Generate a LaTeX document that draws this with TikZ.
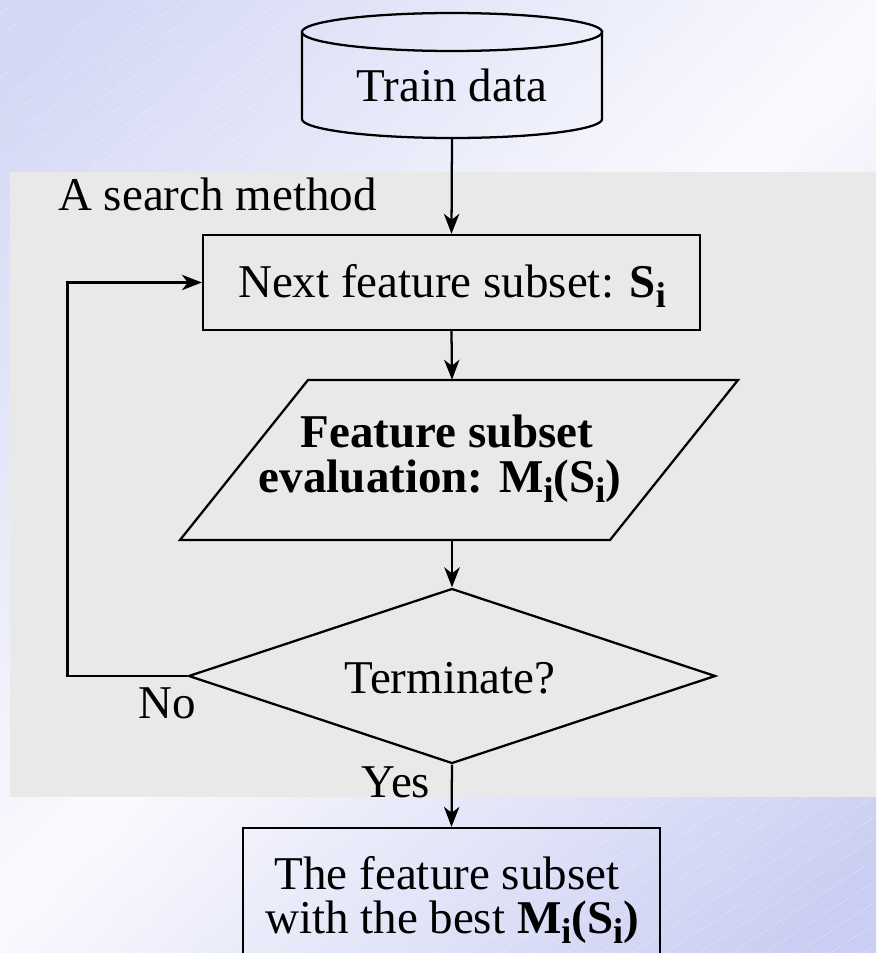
\documentclass[tikz,border=0pt]{standalone}
\usepackage{fontspec}
\setmainfont{Liberation Serif}
\usetikzlibrary{arrows.meta,shapes.geometric}

\definecolor{lavA}{RGB}{212,216,244}
\definecolor{lavB}{RGB}{202,206,242}
\definecolor{bgwhite}{RGB}{250,250,254}
\definecolor{panel}{RGB}{233,233,233}

% diagonal backdrop: lavender corners, pale band across the middle
\pgfdeclareverticalshading{bgdiag}{100bp}{color(0bp)=(lavB); color(18bp)=(lavB); color(50bp)=(bgwhite); color(82bp)=(lavA); color(100bp)=(lavA)}

% lowered subscript i
\newcommand{\subi}{\raisebox{-8pt}{\fontsize{27pt}{27pt}\selectfont i}}

\begin{document}
\begin{tikzpicture}[x=0.75pt, y=-0.75pt,
  txt/.style={font=\fontsize{35.25pt}{42pt}\selectfont, inner sep=0pt, anchor=base},
  boldtxt/.style={txt, font=\fontsize{35.25pt}{42pt}\selectfont\bfseries},
  box/.style={draw, line width=1.7pt, inner sep=0pt},
  edge/.style={line width=1.7pt},
  conn/.style={line width=1.7pt, -{Stealth[length=15pt, width=11.5pt, inset=4.5pt]}}]

% backdrop
\shade[shading=bgdiag, shading angle=45] (0,0) rectangle (876,953);
\useasboundingbox (0,0) rectangle (876,953);
\begin{scope}
  \clip (0,0) rectangle (876,953);
  \foreach \c in {-1480,-1447,...,880}
    \draw[white, opacity=0.55, line width=0.4pt, dash pattern=on 1pt off 1pt] (\c,953) -- ++(2000,-1299);
\end{scope}

% search-method panel
\fill[panel] (10,172) rectangle (876,797);
\node[txt, anchor=base west] (searchlbl) at (58,210) {A search method};

% train data cylinder
\draw[edge] (302,32) -- (302,119)
  -- plot[domain=180:360, samples=60] ({452+150*cos(\x)}, {119-19*sin(\x)})
  -- (602,32);
\draw[edge] plot[domain=0:360, samples=90] ({452+150*cos(\x)}, {32+19*sin(\x)}) -- cycle;
\node[txt] (train) at (452,101) {Train data};
\coordinate (trainbot) at (452,138);

% next feature subset
\node[box, minimum width=372.75pt, minimum height=71.25pt] (next) at (451.5,282.5) {};
\node[txt] (nexttxt) at (452,297) {Next feature subset: \textbf{S\subi}};

% evaluation parallelogram
\node[inner sep=0pt, minimum width=300pt, minimum height=120pt] (eval) at (452,460) {};
\draw[edge] (308,380) -- (738,380) -- (610,540) -- (180,540) -- cycle;
\node[boldtxt] (evaltxt1) at (447,447) {Feature subset};
\node[boldtxt] (evaltxt2) at (440,492) {evaluation: M\subi(S\subi)};

% termination test
\node[draw, diamond, line width=1.7pt, aspect=3, inner sep=0pt,
      minimum width=395.25pt, minimum height=131.25pt] (term) at (452,676) {};
\node[txt] (termtxt) at (450,693) {Terminate?};
\node[txt] (nolbl) at (167,718) {No};
\node[txt] (yeslbl) at (396,797) {Yes};

% result box
\begin{scope}
  \clip (0,0) rectangle (876,953);
  \node[box, minimum width=312.75pt, minimum height=99pt] (best) at (451.5,894) {};
\end{scope}
\node[txt] (besttxt1) at (447,889) {The feature subset};
\node[txt] (besttxt2) at (452,933) {with the best \textbf{M\subi(S\subi)}};

% connectors
\draw[conn] (trainbot) -- (next.north);
\draw[conn] (next.south) -- (eval.north);
\draw[conn] (eval.south) -- (term.north);
\draw[conn] (term.south) -- (best.north);
\draw[conn] (term.west) -- ++(-120,0) |- (next.west);
\end{tikzpicture}
\end{document}
